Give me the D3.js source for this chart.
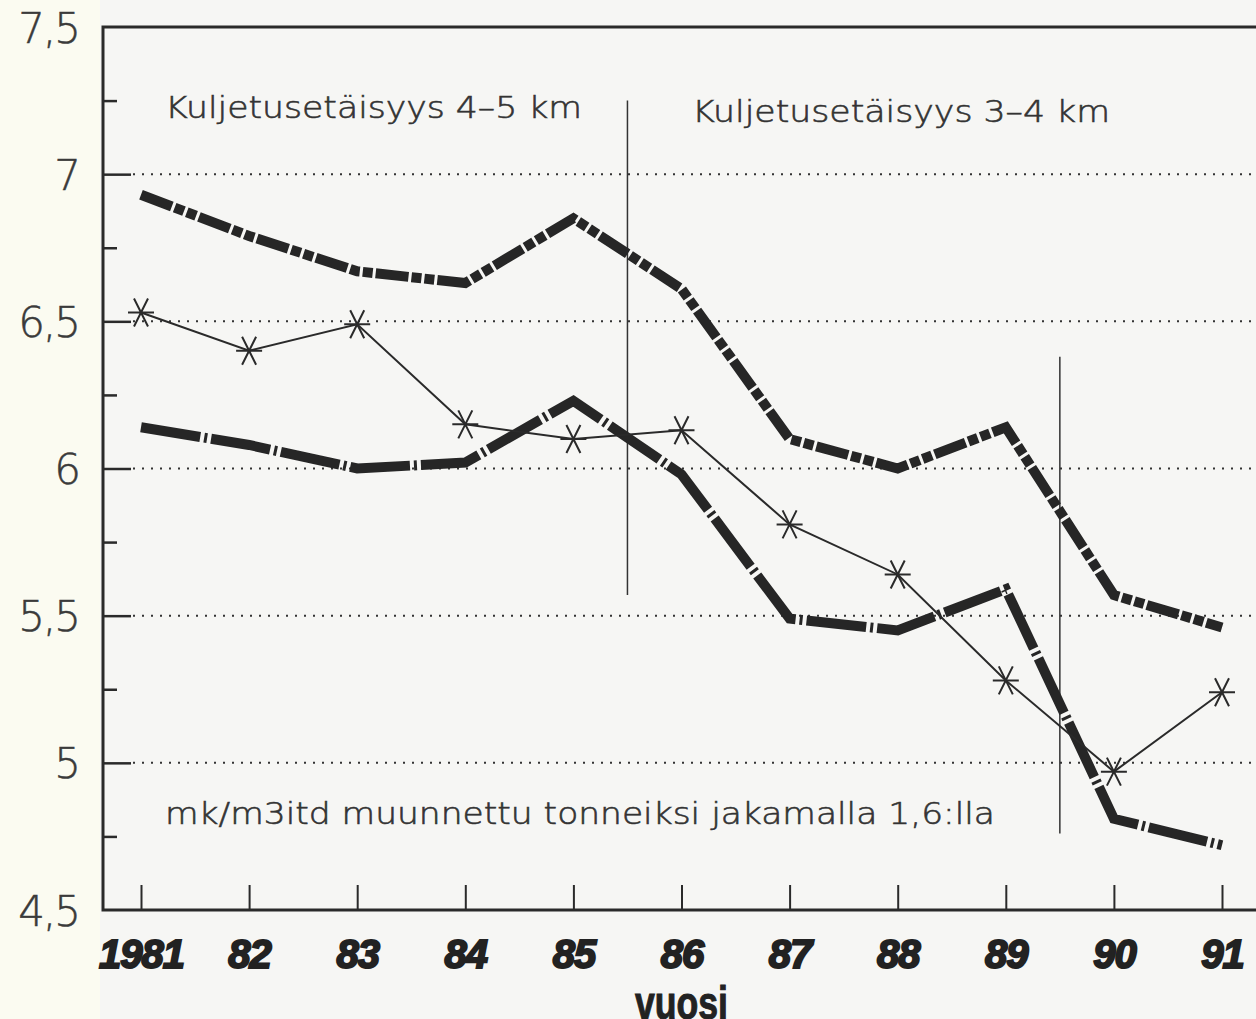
<!DOCTYPE html>
<html>
<head>
<meta charset="utf-8">
<script src="https://cdn.jsdelivr.net/npm/d3@7"></script>
<style>
  body { margin: 0; background: #f6f6f4; }
  svg { display: block; }
</style>
</head>
<body>
<script>

// values
var years = [1981, 1982, 1983, 1984, 1985, 1986, 1987, 1988, 1989, 1990, 1991];
var yearLabels = ["1981", "82", "83", "84", "85", "86", "87", "88", "89", "90", "91"];
var upperSeries = [6.93, 6.79, 6.67, 6.63, 6.85, 6.61, 6.10, 6.00, 6.14, 5.57, 5.46];
var lowerSeries = [6.14, 6.08, 6.00, 6.02, 6.23, 5.98, 5.49, 5.45, 5.59, 4.81, 4.72];
var starSeries  = [6.53, 6.40, 6.49, 6.15, 6.10, 6.13, 5.81, 5.64, 5.28, 4.97, 5.24];
var majorTicks = [4.5, 5, 5.5, 6, 6.5, 7, 7.5];
var minorTicks = [4.75, 5.25, 5.75, 6.25, 6.75, 7.25];
var separators = [
  { year: 1985.5, from: 5.57, to: 7.25 },
  { year: 1989.5, from: 4.76, to: 6.38 }
];

var w = 1256, h = 1019;
var plotLeft = 103, plotTop = 27, plotBottom = 910;
var ink = "#2a2a2a";
var thin = "'DejaVu Sans', 'Noto Sans', sans-serif";

var svg = d3.select("body").append("svg")
    .attr("width", w)
    .attr("height", h);

svg.append("rect").attr("width", w).attr("height", h).attr("fill", "#f6f6f4");
svg.append("rect").attr("width", plotLeft - 3).attr("height", h).attr("fill", "#fbfbf1");

var x = d3.scaleLinear().domain([1981, 1991]).range([141, 1222]);
var y = d3.scaleLinear().domain([4.5, 7.5]).range([plotBottom, plotTop]);

// dotted grid lines
svg.selectAll("line.grid")
   .data(majorTicks.filter(function(d) { return d > 4.5 && d < 7.5; }))
   .enter().append("line")
   .attr("class", "grid")
   .attr("x1", plotLeft + 30).attr("x2", w)
   .attr("y1", function(d) { return y(d); })
   .attr("y2", function(d) { return y(d); })
   .attr("stroke", "#333")
   .attr("stroke-width", 2)
   .attr("stroke-dasharray", "2,7");

// y ticks (inward)
svg.append("g")
   .attr("transform", "translate(" + plotLeft + ",0)")
   .call(d3.axisRight(y).tickValues(majorTicks.slice(1, -1)).tickSize(28).tickFormat(""))
   .call(function(g) { g.select(".domain").remove(); })
   .selectAll("line").attr("stroke", ink).attr("stroke-width", 2.5);

svg.append("g")
   .attr("transform", "translate(" + plotLeft + ",0)")
   .call(d3.axisRight(y).tickValues(minorTicks).tickSize(14).tickFormat(""))
   .call(function(g) { g.select(".domain").remove(); })
   .selectAll("line").attr("stroke", ink).attr("stroke-width", 2.5);

// y labels
var yLab = svg.append("g")
   .attr("transform", "translate(" + (plotLeft - 24) + ",0)")
   .call(d3.axisLeft(y).tickValues(majorTicks).tickSize(0).tickPadding(0)
         .tickFormat(function(d) { return String(d).replace(".", ","); }));
yLab.select(".domain").remove();
yLab.selectAll("text")
    .attr("font-family", thin)
    .attr("font-weight", 200)
    .attr("font-size", 42)
    .attr("fill", "#3a3a3a")
    .attr("stroke", "#3a3a3a")
    .attr("stroke-width", 0.5)
    .attr("letter-spacing", -2)
    .attr("dy", "0.36em");

// x ticks (upward) and labels
var xAx = svg.append("g")
   .attr("transform", "translate(0," + plotBottom + ")")
   .call(d3.axisBottom(x).tickValues(years).tickSizeInner(-25).tickSizeOuter(0).tickPadding(30)
         .tickFormat(function(d, i) { return yearLabels[i]; }));
xAx.select(".domain").remove();
xAx.selectAll("line").attr("stroke", ink).attr("stroke-width", 2);
xAx.selectAll("text")
   .attr("font-family", "'Liberation Sans', Arial, sans-serif")
   .attr("font-weight", "bold")
   .attr("font-style", "italic")
   .attr("font-size", 40)
   .attr("fill", "#222")
   .attr("stroke", "#222")
   .attr("stroke-width", 2)
   .attr("letter-spacing", -1);

// frame: top, left, bottom
svg.append("path")
   .attr("d", "M" + w + "," + plotTop + "H" + plotLeft + "V" + plotBottom + "H" + w)
   .attr("fill", "none")
   .attr("stroke", ink)
   .attr("stroke-width", 3);

// separators
svg.selectAll("line.sep")
   .data(separators)
   .enter().append("line")
   .attr("class", "sep")
   .attr("x1", function(d) { return x(d.year); })
   .attr("x2", function(d) { return x(d.year); })
   .attr("y1", function(d) { return y(d.to); })
   .attr("y2", function(d) { return y(d.from); })
   .attr("stroke", "#333")
   .attr("stroke-width", 1.5);

var line = d3.line()
   .x(function(d, i) { return x(years[i]); })
   .y(function(d) { return y(d); });

svg.append("path")
   .datum(upperSeries)
   .attr("d", line)
   .attr("fill", "none")
   .attr("stroke", "#262626")
   .attr("stroke-width", 10)
   .attr("stroke-dasharray", "33,3,10,3,10,3");

svg.append("path")
   .datum(lowerSeries)
   .attr("d", line)
   .attr("fill", "none")
   .attr("stroke", "#262626")
   .attr("stroke-width", 10)
   .attr("stroke-dasharray", "60,4,3,4");

svg.append("path")
   .datum(starSeries)
   .attr("d", line)
   .attr("fill", "none")
   .attr("stroke", "#2a2a2a")
   .attr("stroke-width", 2);

// asterisk markers
svg.selectAll("path.star")
   .data(starSeries)
   .enter().append("path")
   .attr("class", "star")
   .attr("transform", function(d, i) { return "translate(" + x(years[i]) + "," + y(d) + ")"; })
   .attr("d", "M-13,0H13M-7,-14L7,14M7,-14L-7,14")
   .attr("fill", "none")
   .attr("stroke", "#2a2a2a")
   .attr("stroke-width", 2);

// annotations
function note(tx, ty, str, len) {
  svg.append("text")
     .attr("x", tx).attr("y", ty)
     .attr("font-family", thin)
     .attr("font-weight", 200)
     .attr("font-size", 31)
     .attr("fill", "#333")
     .attr("stroke", "#333")
     .attr("stroke-width", 0.6)
     .attr("textLength", len)
     .attr("lengthAdjust", "spacingAndGlyphs")
     .text(str);
}
note(165, 118, "Kuljetusetäisyys 4–5 km", 417);
note(692, 122, "Kuljetusetäisyys 3–4 km", 418);
note(165, 824, "mk/m3itd muunnettu tonneiksi jakamalla 1,6:lla", 830);

svg.append("text")
   .attr("x", 635).attr("y", 1019)
   .attr("font-family", "'Liberation Sans Narrow', 'Liberation Sans', Arial, sans-serif")
   .attr("font-weight", "bold")
   .attr("font-size", 46)
   .attr("fill", "#222")
   .attr("stroke", "#222")
   .attr("stroke-width", 1)
   .attr("textLength", 93)
   .attr("lengthAdjust", "spacingAndGlyphs")
   .text("vuosi");

</script>
</body>
</html>
